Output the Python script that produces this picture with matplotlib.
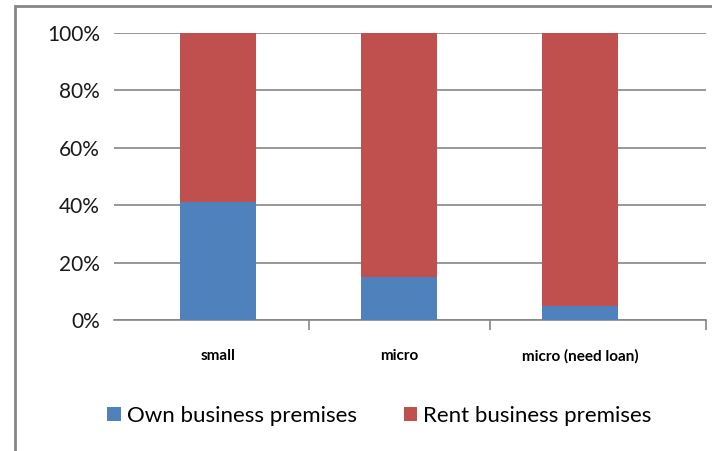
import matplotlib.pyplot as plt
from matplotlib.patches import Rectangle
from matplotlib.ticker import PercentFormatter

categories = ['small', 'micro', 'micro (need loan)']
own_premises = [41, 15, 5]
rent_premises = [59, 85, 95]

blue = '#4f81bd'
red = '#c0504d'
grid_grey = '#868686'

plt.rcParams['font.family'] = ['Lato', 'DejaVu Sans']

fig = plt.figure(figsize=(7.12, 4.51), dpi=100)
ax = fig.add_axes([0.160, 0.2905, 0.8316, 0.6363])

x = range(len(categories))
ax.bar(x, own_premises, width=0.42, color=blue, label='Own business premises', zorder=3)
ax.bar(x, rent_premises, width=0.42, bottom=own_premises, color=red,
       label='Rent business premises', zorder=3)

ax.set_ylim(0, 100)
ax.set_xlim(-0.575, 2.695)
ax.set_yticks(range(0, 101, 20))
ax.yaxis.set_major_formatter(PercentFormatter(decimals=0))
ax.yaxis.grid(True, color=grid_grey, linewidth=1.2, zorder=0)
ax.tick_params(axis='y', length=0, pad=10, labelsize=15, labelcolor='#1a1a1a')

# category labels in the middle, tick marks on the boundaries between them
ax.set_xticks([0.5, 1.5, 2.695])
ax.set_xticklabels([])
ax.tick_params(axis='x', which='major', length=7, width=1.2, color=grid_grey)
ax.set_xticks(list(x), minor=True)
ax.set_xticklabels(categories, minor=True, fontweight='bold', fontsize=11)
ax.tick_params(axis='x', which='minor', length=0, pad=21)

for side in ['left', 'right', 'top']:
    ax.spines[side].set_visible(False)
ax.spines['bottom'].set_color(grid_grey)
ax.spines['bottom'].set_linewidth(1.2)

fig.legend(loc='center', bbox_to_anchor=(0.533, 0.078), ncol=2, frameon=False,
           fontsize=16, handlelength=0.62, handleheight=0.62, handletextpad=0.27,
           columnspacing=2.1)

# outer chart border
fig.patches.append(Rectangle((15 / 712, -0.1), 1.0, 1.1 - 6 / 451, transform=fig.transFigure,
                             fill=False, edgecolor=grid_grey, linewidth=2.0))

fig.savefig('out.png', dpi=100)
